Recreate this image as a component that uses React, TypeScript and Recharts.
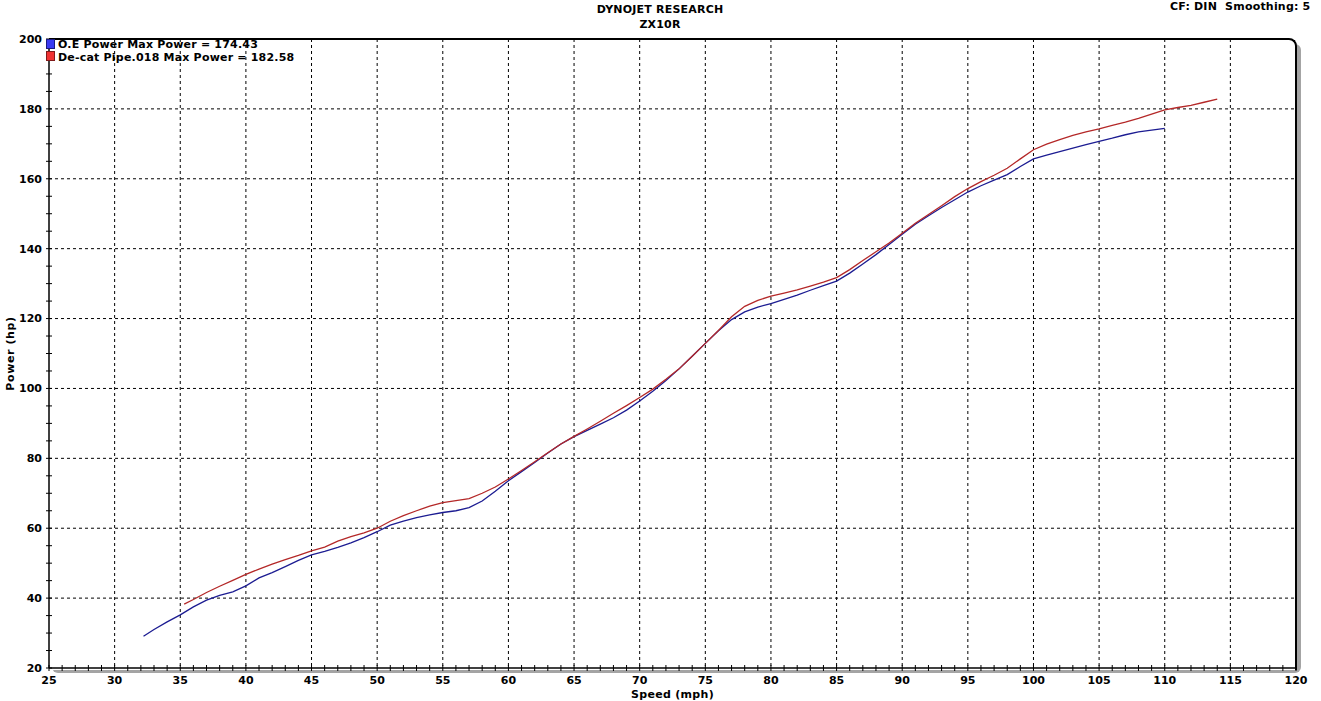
import { LineChart, Line, XAxis, YAxis, CartesianGrid } from 'recharts'

// O.E run (blue)
const oeSpeed = [32.2, 33, 34, 35, 36, 37, 38, 39, 40, 41, 42, 43, 44, 45, 46, 47, 48, 49, 50, 51, 52, 53, 54, 55, 56, 57, 58, 59, 60, 61, 62, 63, 64, 65, 66, 67, 68, 69, 70, 71, 72, 73, 74, 75, 76, 77, 78, 79, 80, 81, 82, 83, 84, 85, 86, 87, 88, 89, 90, 91, 92, 93, 94, 95, 96, 97, 98, 99, 100, 101, 102, 103, 104, 105, 106, 107, 108, 109, 110]
const oePower = [29.1, 31, 33.2, 35.2, 37.5, 39.4, 40.8, 41.8, 43.5, 45.8, 47.3, 49, 50.8, 52.4, 53.4, 54.5, 55.8, 57.3, 59, 60.9, 62, 63, 63.8, 64.5, 65, 65.9, 67.8, 70.6, 73.6, 76.2, 78.8, 81.5, 84.1, 86.2, 88, 89.8, 91.6, 93.8, 96.4, 99.2, 102.3, 105.6, 109.2, 112.9, 116.5, 119.7, 121.9, 123.3, 124.3, 125.5, 126.7, 128.1, 129.4, 130.7, 133, 135.6, 138.3, 141.2, 144.1, 147, 149.4, 151.8, 154, 156.2, 158, 159.6, 161.2, 163.5, 165.7, 166.8, 167.8, 168.8, 169.8, 170.7, 171.6, 172.6, 173.4, 173.9, 174.4]

// De-cat pipe run (red)
const decatSpeed = [35.3, 36, 37, 38, 39, 40, 41, 42, 43, 44, 45, 46, 47, 48, 49, 50, 51, 52, 53, 54, 55, 56, 57, 58, 59, 60, 61, 62, 63, 64, 65, 66, 67, 68, 69, 70, 71, 72, 73, 74, 75, 76, 77, 78, 79, 80, 81, 82, 83, 84, 85, 86, 87, 88, 89, 90, 91, 92, 93, 94, 95, 96, 97, 98, 99, 100, 101, 102, 103, 104, 105, 106, 107, 108, 109, 110, 111, 112, 113, 114]
const decatPower = [38.3, 39.6, 41.6, 43.4, 45.1, 46.8, 48.3, 49.7, 51, 52.2, 53.5, 54.6, 56.3, 57.6, 58.7, 60, 62, 63.6, 65, 66.3, 67.3, 67.9, 68.5, 70, 71.8, 74.1, 76.5, 79, 81.6, 84.1, 86.3, 88.4, 90.6, 92.9, 95.1, 97.4, 99.8, 102.6, 105.6, 109.2, 112.9, 116.6, 120.5, 123.5, 125.2, 126.4, 127.3, 128.2, 129.3, 130.4, 131.7, 134, 136.6, 139.1, 141.6, 144.4, 147.3, 149.8, 152.3, 154.9, 157.2, 159.2, 161, 163, 165.7, 168.3, 169.9, 171.2, 172.4, 173.4, 174.3, 175.3, 176.2, 177.3, 178.5, 179.7, 180.4, 181, 181.9, 182.8]

const xGridValues = [30, 35, 40, 45, 50, 55, 60, 65, 70, 75, 80, 85, 90, 95, 100, 105, 110, 115]
const yGridValues = [40, 60, 80, 100, 120, 140, 160, 180]
const xTicks = Array.from({ length: 96 }, (_, i) => 25 + i)
const yTicks = Array.from({ length: 37 }, (_, i) => 20 + i * 5)

const oeData = oeSpeed.map((mph, i) => ({ mph, hp: oePower[i] }))
const decatData = decatSpeed.map((mph, i) => ({ mph, hp: decatPower[i] }))

const FONT = '"DejaVu Sans", Verdana, sans-serif'
const textStyle = { fontFamily: FONT, fontSize: 11, fontWeight: 700, fill: '#000' }

const XTick = ({ x, y, payload }: any) => (
  <g>
    <line x1={x} x2={x} y1={y - 3} y2={y + 3} stroke="#000" />
    {payload.value % 5 === 0 && (
      <text x={x} y={y + 8} dy="0.71em" textAnchor="middle" style={textStyle}>
        {payload.value}
      </text>
    )}
  </g>
)

const YTick = ({ x, y, payload }: any) => (
  <g>
    <line x1={x - 3} x2={x + 3} y1={y} y2={y} stroke="#000" />
    {payload.value % 20 === 0 && (
      <text x={x - 7} y={y} dy="0.355em" textAnchor="end" style={textStyle}>
        {payload.value}
      </text>
    )}
  </g>
)

const abs = (left: number, top: number, extra: object = {}) => ({
  position: 'absolute' as const,
  left,
  top,
  ...extra,
})

const labelText = {
  fontFamily: FONT,
  fontSize: 11,
  fontWeight: 700,
  color: '#000',
  whiteSpace: 'nowrap' as const,
  lineHeight: '13px',
  letterSpacing: '0.2px',
}

export default function App() {
  return (
    <div style={abs(0, 0, { width: 1321, height: 701, background: '#fff' })}>
      {/* frame shadow + plot background */}
      <div style={abs(52, 44, { width: 1249, height: 629, background: '#a4a4a4', borderRadius: 6 })} />
      <div
        style={abs(49, 38, {
          width: 1246,
          height: 630,
          background: '#fff',
          borderTop: '2px solid #000',
          borderRight: '2px solid #000',
          borderTopRightRadius: 8,
          borderBottomLeftRadius: 4,
        })}
      />

      <div style={abs(0, 0)}>
        <LineChart width={1321} height={701} margin={{ top: 39, right: 25, bottom: 3, left: 9 }}>
          <CartesianGrid
            stroke="#000"
            strokeDasharray="3 3"
            verticalValues={xGridValues}
            horizontalValues={yGridValues}
          />
          <XAxis
            type="number"
            dataKey="mph"
            domain={[25, 120]}
            ticks={xTicks}
            interval={0}
            height={30}
            tickSize={0}
            tickMargin={0}
            tickLine={false}
            tick={<XTick />}
            axisLine={{ stroke: '#000', strokeWidth: 1.5 }}
            allowDataOverflow
            label={{ value: 'Speed (mph)', position: 'insideBottom', offset: 0, style: { ...textStyle, letterSpacing: '0.3px' } }}
          />
          <YAxis
            type="number"
            domain={[20, 200]}
            ticks={yTicks}
            interval={0}
            width={40}
            tickSize={0}
            tickMargin={0}
            tickLine={false}
            tick={<YTick />}
            axisLine={{ stroke: '#000', strokeWidth: 1.5 }}
            allowDataOverflow
            label={{
              value: 'Power (hp)',
              angle: -90,
              position: 'insideLeft',
              offset: 1,
              style: { ...textStyle, textAnchor: 'middle', letterSpacing: '0.6px' },
            }}
          />
          <Line
            data={oeData}
            dataKey="hp"
            name="O.E Power"
            type="linear"
            stroke="#1c1c92"
            strokeWidth={1.3}
            dot={false}
            isAnimationActive={false}
          />
          <Line
            data={decatData}
            dataKey="hp"
            name="De-cat Pipe.018"
            type="linear"
            stroke="#b42828"
            strokeWidth={1.3}
            dot={false}
            isAnimationActive={false}
          />
        </LineChart>
      </div>

      {/* titles */}
      <div style={abs(560, 3, { ...labelText, width: 200, textAlign: 'center' })}>DYNOJET RESEARCH</div>
      <div style={abs(560, 18, { ...labelText, width: 200, textAlign: 'center' })}>ZX10R</div>
      <div style={abs(1170, 0, labelText)}>CF: DIN&nbsp;&nbsp;Smoothing: 5</div>

      {/* legend */}
      <div style={abs(46, 39, { width: 7, height: 8, background: '#3a3af2', border: '1px solid #1a1a80' })} />
      <div style={abs(46, 51, { width: 7, height: 8, background: '#f03232', border: '1px solid #801a1a' })} />
      <div style={abs(58, 38, labelText)}>O.E Power Max Power = 174.43</div>
      <div style={abs(58, 51, labelText)}>De-cat Pipe.018 Max Power = 182.58</div>
    </div>
  )
}
